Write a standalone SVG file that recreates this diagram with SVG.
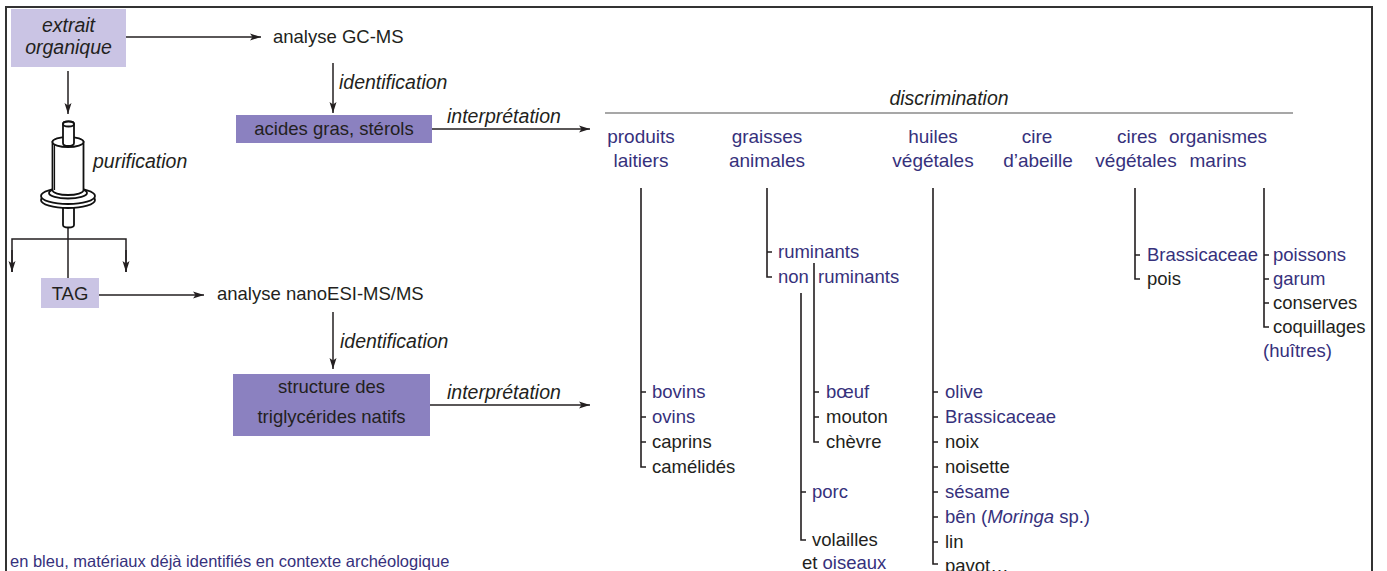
<svg xmlns="http://www.w3.org/2000/svg" width="1387" height="571" viewBox="0 0 1387 571">
<style>
  text { font-family: "Liberation Sans", Arial, sans-serif; fill: #231f20; }
  .t18 { font-size: 18.5px; }
  .it { font-style: italic; font-size: 19.5px; }
  .cat { font-size: 19px; fill: #36317c; text-anchor: middle; }
  .blue { fill: #36317c; }
  .mid { text-anchor: middle; }
  .light { fill: #cac4e4; }
  .dark { fill: #8b81c0; }
  .ln { stroke: #231f20; stroke-width: 1.5; fill: none; }
  .br { stroke: #231f20; stroke-width: 1.6; fill: none; }
  .arr { stroke: #231f20; stroke-width: 1.5; fill: none; marker-end: url(#ah); }
  .ic { stroke: #111; stroke-width: 1.8; fill: #fff; }
</style>
<defs>
  <marker id="ah" markerUnits="userSpaceOnUse" markerWidth="12" markerHeight="8" refX="11" refY="4" orient="auto">
    <path d="M0,0.5 L11,4 L0,7.5 L2.5,4 Z" fill="#231f20"/>
  </marker>
</defs>
<rect x="6" y="7" width="1366" height="590" fill="#fff" stroke="#333" stroke-width="2"/>

<g id="connectors">
  <line class="arr" x1="126" y1="37" x2="261" y2="37"/>
  <line class="arr" x1="68" y1="71" x2="68" y2="114"/>
  <line class="ln" x1="68" y1="228" x2="68" y2="278"/>
  <polyline class="ln" points="12,272 12,239 126,239 126,272"/>
  <line class="arr" x1="12" y1="250" x2="12" y2="272"/>
  <line class="arr" x1="126" y1="250" x2="126" y2="272"/>
  <line class="arr" x1="333" y1="63" x2="333" y2="113"/>
  <line class="arr" x1="432" y1="129" x2="590" y2="129"/>
  <line class="arr" x1="99" y1="295" x2="204" y2="295"/>
  <line class="arr" x1="333" y1="312" x2="333" y2="369"/>
  <line class="arr" x1="430" y1="405" x2="590" y2="405"/>
  <line x1="605" y1="113" x2="1293" y2="113" stroke="#8a8a8a" stroke-width="1.3"/>
  <!-- produits laitiers -->
  <path class="br" d="M641,188 V467 H646 M641,392 H646 M641,417 H646 M641,442 H646"/>
  <!-- graisses animales -->
  <path class="br" d="M767,188 V277 H772 M767,252 H772"/>
  <path class="br" d="M814,263 V442 H819 M814,392 H819 M814,417 H819"/>
  <path class="br" d="M801,293 V540 H806 M801,492 H806"/>
  <!-- huiles vegetales -->
  <path class="br" d="M933,188 V564 H938 M933,392 H938 M933,417 H938 M933,442 H938 M933,467 H938 M933,492 H938 M933,517 H938 M933,542 H938"/>
  <!-- cires vegetales -->
  <path class="br" d="M1135,188 V279 H1140 M1135,255 H1140"/>
  <!-- organismes marins -->
  <path class="br" d="M1264,188 V327 H1269 M1264,255 H1269 M1264,279 H1269 M1264,303 H1269"/>
</g>

<g id="extrait">
  <rect class="light" x="11" y="9" width="115" height="58"/>
  <text class="it mid" x="68.5" y="32">extrait</text>
  <text class="it mid" x="68.5" y="54">organique</text>
</g>

<g id="purification">
  <path class="ic" d="M63,204 V225 A5.5,2.5 0 0 0 74,225 V204 Z"/>
  <ellipse class="ic" cx="68" cy="200" rx="27" ry="8"/>
  <ellipse class="ic" cx="68" cy="196" rx="27" ry="8"/>
  <ellipse class="ic" cx="68" cy="193" rx="19" ry="5.5" stroke-width="2.6"/>
  <path class="ic" d="M52.5,142 V190 A15.5,5 0 0 0 83.5,190 V142 Z"/>
  <line x1="54.5" y1="144" x2="54.5" y2="190" stroke="#111" stroke-width="1.2"/>
  <ellipse class="ic" cx="68" cy="142" rx="15.5" ry="5"/>
  <path class="ic" d="M63,143 V124 A5.5,2.5 0 0 1 74,124 V143 Q74,146 68,146 Q63,146 63,143 Z"/>
  <ellipse class="ic" cx="68.5" cy="124" rx="5.5" ry="2.5"/>
  <text class="it" x="93" y="168">purification</text>
</g>

<g id="gcms">
  <text class="t18" x="273" y="43">analyse GC-MS</text>
  <text class="it" x="339" y="89">identification</text>
</g>

<g id="acides">
  <rect class="dark" x="236" y="115" width="196" height="28"/>
  <text class="t18 mid" x="334" y="135">acides gras, stérols</text>
  <text class="it" x="447" y="123">interprétation</text>
</g>

<g id="tag">
  <rect class="light" x="41" y="278" width="58" height="30"/>
  <text class="t18 mid" x="70" y="300">TAG</text>
</g>

<g id="nanoesi">
  <text class="t18" x="217" y="300">analyse nanoESI-MS/MS</text>
  <text class="it" x="340" y="348">identification</text>
</g>

<g id="structure">
  <rect class="dark" x="233" y="374" width="197" height="62"/>
  <text class="t18 mid" x="331.5" y="393">structure des</text>
  <text class="t18 mid" x="331.5" y="423">triglycérides natifs</text>
  <text class="it" x="447" y="399">interprétation</text>
</g>

<g id="discrimination">
  <text class="it mid" x="949" y="105">discrimination</text>
</g>

<g id="produits-laitiers">
  <text class="cat" x="641" y="143">produits</text>
  <text class="cat" x="641" y="167">laitiers</text>
  <text class="t18 blue" x="652" y="398">bovins</text>
  <text class="t18 blue" x="652" y="423">ovins</text>
  <text class="t18" x="652" y="448">caprins</text>
  <text class="t18" x="652" y="473">camélidés</text>
</g>

<g id="graisses-animales">
  <text class="cat" x="767" y="143">graisses</text>
  <text class="cat" x="767" y="167">animales</text>
  <text class="t18 blue" x="778" y="258">ruminants</text>
  <text class="t18 blue" x="778" y="283">non</text>
  <text class="t18 blue" x="818" y="283">ruminants</text>
  <text class="t18 blue" x="826" y="398">bœuf</text>
  <text class="t18" x="826" y="423">mouton</text>
  <text class="t18" x="826" y="448">chèvre</text>
  <text class="t18 blue" x="812" y="498">porc</text>
  <text class="t18" x="812" y="546">volailles</text>
  <text class="t18" x="802" y="569">et <tspan class="blue">oiseaux</tspan></text>
</g>

<g id="huiles-vegetales">
  <text class="cat" x="933" y="143">huiles</text>
  <text class="cat" x="933" y="167">végétales</text>
  <text class="t18 blue" x="945" y="398">olive</text>
  <text class="t18 blue" x="945" y="423">Brassicaceae</text>
  <text class="t18" x="945" y="448">noix</text>
  <text class="t18" x="945" y="473">noisette</text>
  <text class="t18 blue" x="945" y="498">sésame</text>
  <text class="t18 blue" x="945" y="523">bên (<tspan font-style="italic">Moringa</tspan> sp.)</text>
  <text class="t18" x="945" y="548">lin</text>
  <text class="t18" x="945" y="572">pavot…</text>
</g>

<g id="cire-abeille">
  <text class="cat" x="1037" y="143">cire</text>
  <text class="cat" x="1038" y="167">d’abeille</text>
</g>

<g id="cires-vegetales">
  <text class="cat" x="1137" y="143">cires</text>
  <text class="cat" x="1136" y="167">végétales</text>
  <text class="t18 blue" x="1147" y="261">Brassicaceae</text>
  <text class="t18" x="1147" y="285">pois</text>
</g>

<g id="organismes-marins">
  <text class="cat" x="1218" y="143" text-anchor="start">organismes</text>
  <text class="cat" x="1218" y="167" text-anchor="start">marins</text>
  <text class="t18 blue" x="1273" y="261">poissons</text>
  <text class="t18 blue" x="1273" y="285">garum</text>
  <text class="t18" x="1273" y="309">conserves</text>
  <text class="t18" x="1273" y="333">coquillages</text>
  <text class="t18 blue" x="1263" y="357">(huîtres)</text>
</g>

<g id="legende">
  <text class="blue" x="10" y="567" font-size="16.5">en bleu, matériaux déjà identifiés en contexte archéologique</text>
</g>
</svg>
